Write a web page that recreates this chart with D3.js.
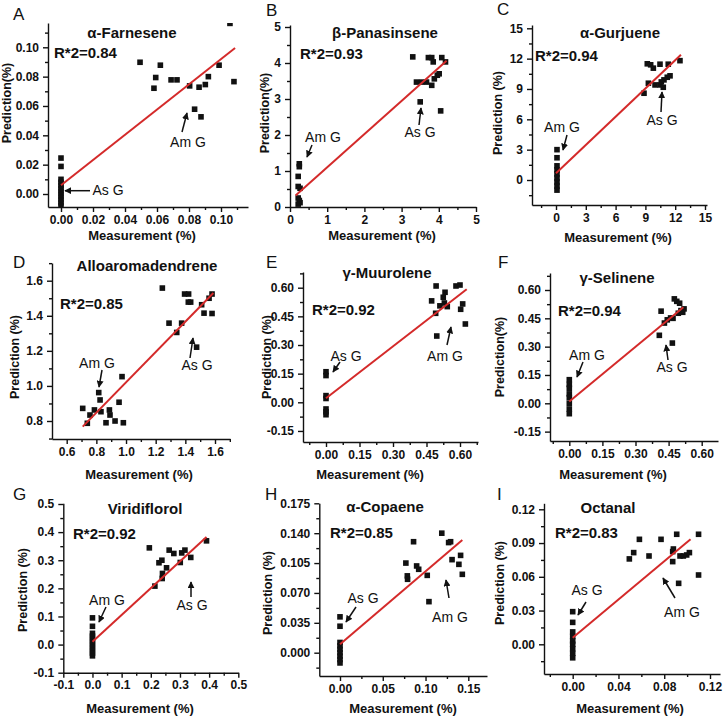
<!DOCTYPE html>
<html><head><meta charset="utf-8">
<script src="https://cdn.jsdelivr.net/npm/d3@7"></script>
<style>
body{margin:0;background:#fff}
svg{display:block}
text{font-family:"Liberation Sans",Arial,sans-serif;fill:#111}
</style>
</head><body>
<svg id="chart" width="723" height="718"></svg>
<script>
// ---------------- DATA ----------------
const panelIds = ["A","B","C","D","E","F","G","H","I"];
const titles = ["α-Farnesene","β-Panasinsene","α-Gurjuene","Alloaromadendrene","γ-Muurolene","γ-Selinene","Viridiflorol","α-Copaene","Octanal"];
const r2Labels = ["R*2=0.84","R*2=0.93","R*2=0.94","R*2=0.85","R*2=0.92","R*2=0.94","R*2=0.92","R*2=0.85","R*2=0.83"];
const yTitles = ["Prediction(%)","Prediction(%)","Prediction (%)","Prediction (%)","Prediction (%)","Prediction(%)","Prediction (%)","Prediction (%)","Prediction (%)"];
const xTitle = "Measurement (%)";

// measurement (x) and prediction (y) per panel
const A_x = [0,0,0,0,0,0,0,0,0,0,0,0, 0.0494,0.0581,0.0592,0.0621,0.0688,0.0725,0.0804,0.0835,0.0863,0.0875,0.0902,0.0921,0.0988,0.1081,0.1056];
const A_y = [0.0245,0.0188,0.010,0.008,0.006,0.004,0.002,0.000,-0.002,-0.004,-0.006,-0.008, 0.0898,0.0721,0.0794,0.0878,0.0778,0.0778,0.0737,0.0578,0.0728,0.0526,0.0746,0.0800,0.0878,0.0766,0.1163];
const A_fit = [[0,0.006],[0.1088,0.0995]];

const B_x = [0.25,0.25,0.22,0.22,0.27,0.22,0.25,0.27,0.22, 3.30,3.72,3.81,3.85,4.08,4.18,3.40,3.54,3.67,3.81,3.88,3.96,4.01,3.50,4.05];
const B_y = [1.20,1.12,0.85,0.57,0.52,0.25,0.18,0.12,0.08, 4.17,4.15,4.15,4.03,4.15,4.03,3.47,3.47,3.47,3.38,3.56,3.66,3.70,2.92,2.67];
const B_fit = [[0.15,0.32],[4.21,4.06]];

const C_x = [0.1,0.1,0.1,0.1,0.1,0.1,0.1,0.1,0.1, 8.86,9.30,9.19,9.53,9.80,10.47,11.30,12.48,9.97,10.47,10.87,10.80,11.20,11.48,10.60];
const C_y = [3.0,2.2,1.4,1.0,0.6,0.2,-0.2,-0.6,-1.0, 8.58,9.57,11.49,11.39,11.06,11.45,11.45,11.80,9.40,9.40,9.90,9.17,10.16,10.30,9.70];
const C_fit = [[0,0.66],[12.58,12.38]];

const D_x = [0.708,0.739,0.757,0.787,0.816,0.825,0.831,0.888,0.892,0.865,0.926,0.953,0.973,0.982, 1.245,1.290,1.342,1.375,1.395,1.422,1.420,1.436,1.510,1.526,1.580,1.580,1.560,1.476];
const D_y = [0.872,0.787,0.834,0.863,0.962,0.920,0.853,0.863,0.834,0.790,0.800,0.907,1.053,0.790, 1.558,1.358,1.305,1.358,1.524,1.524,1.478,1.478,1.463,1.415,1.524,1.413,1.500,1.221];
const D_fit = [[0.708,0.768],[1.589,1.530]];

const E_x = [0,0,0,0,0,0,0, 0.473,0.493,0.491,0.496,0.533,0.525,0.543,0.510,0.582,0.600,0.612,0.603,0.624,0.530];
const E_y = [0.16,0.14,0.035,0.02,-0.035,-0.05,-0.065, 0.531,0.609,0.466,0.347,0.576,0.550,0.501,0.505,0.609,0.614,0.515,0.487,0.410,0.520];
const E_fit = [[0,0.021],[0.63,0.592]];

const F_x = [0,0,0,0,0,0,0,0, 0.416,0.408,0.431,0.444,0.467,0.459,0.476,0.487,0.500,0.506,0.494,0.514,0.470,0.520];
const F_y = [0.125,0.10,0.08,0.05,0.03,0.0,-0.03,-0.055, 0.488,0.360,0.425,0.442,0.319,0.452,0.553,0.540,0.530,0.491,0.477,0.482,0.450,0.500];
const F_fit = [[0,0.01],[0.517,0.509]];

const G_x = [0,0,0,0,0,0,0,0,0,0,0, 0.195,0.214,0.228,0.238,0.240,0.239,0.254,0.263,0.279,0.306,0.301,0.317,0.337,0.391];
const G_y = [0.095,0.065,0.04,0.03,0.02,0.01,0.0,-0.01,-0.02,-0.03,-0.04, 0.344,0.208,0.291,0.300,0.253,0.235,0.273,0.336,0.324,0.326,0.292,0.336,0.310,0.369];
const G_fit = [[0,0.01],[0.391,0.383]];

const H_x = [0,0,0,0,0,0,0,0,0, 0.077,0.0787,0.079,0.086,0.0896,0.092,0.102,0.104,0.119,0.127,0.1293,0.131,0.139,0.141,0.143];
const H_y = [0.042,0.031,0.012,0.008,0.004,0.0,-0.004,-0.008,-0.012, 0.105,0.090,0.086,0.130,0.1016,0.0977,0.0906,0.0598,0.140,0.129,0.130,0.109,0.1035,0.114,0.0918];
const H_fit = [[0,0.0098],[0.143,0.132]];

const I_x = [0,0,0,0,0,0,0,0,0, 0.0495,0.0533,0.0583,0.0667,0.0772,0.0874,0.088,0.0874,0.0909,0.0926,0.0938,0.0967,0.0996,0.102,0.110,0.110];
const I_y = [0.029,0.0195,0.011,0.007,0.003,0.0,-0.004,-0.008,-0.012, 0.0759,0.0815,0.0933,0.0785,0.0933,0.0824,0.0847,0.0735,0.0978,0.0542,0.0785,0.0785,0.0794,0.0815,0.0978,0.0616];
const I_fit = [[0,0.0059],[0.103,0.0933]];

// tick values
const A_xticks = [0,0.02,0.04,0.06,0.08,0.10], A_yticks = [0,0.02,0.04,0.06,0.08,0.10];
const B_xticks = [0,1,2,3,4,5], B_yticks = [0,1,2,3,4,5];
const C_xticks = [0,3,6,9,12,15], C_yticks = [0,3,6,9,12,15];
const D_xticks = [0.6,0.8,1.0,1.2,1.4,1.6], D_yticks = [0.8,1.0,1.2,1.4,1.6];
const E_xticks = [0,0.15,0.30,0.45,0.60], E_yticks = [-0.15,0,0.15,0.30,0.45,0.60];
const F_xticks = [0,0.15,0.30,0.45,0.60], F_yticks = [-0.15,0,0.15,0.30,0.45,0.60];
const G_xticks = [-0.1,0,0.1,0.2,0.3,0.4,0.5], G_yticks = [-0.1,0,0.1,0.2,0.3,0.4,0.5];
const H_xticks = [0,0.05,0.10,0.15], H_yticks = [0,0.035,0.070,0.105,0.140,0.175];
const I_xticks = [0,0.04,0.08,0.12], I_yticks = [0,0.03,0.06,0.09,0.12];

// ---------------- LAYOUT ----------------
// ax: pixel extent of axes; xr/yr: two reference (value, pixel) pairs
const layout = {
 A:{letter:[13,20], ax:{l:48,r:248,b:207,t:23}, xr:[[0,61],[0.1,221]], yr:[[0,194],[0.1,47.3]], xf:".2f", yf:".2f",
    title:[132,32], r2:[54,52], yt:[7,103], xt:[142,235],
    ann:[{t:"As G",p:[108,190],a:[[90,190.7],[65,190.7]]},{t:"Am G",p:[188,142],a:[[182,132],[187,113]]}]},
 B:{letter:[266,16], ax:{l:290,r:476,b:207,t:25}, xr:[[0,290],[5,476]], yr:[[0,207],[5,27]], xf:"d", yf:"d",
    title:[385,32], r2:[300,53], yt:[265,113], xt:[382,235],
    ann:[{t:"Am G",p:[323,137],a:[[312,145],[307,157]]},{t:"As G",p:[420,132],a:[[419,125],[421,108]]}]},
 C:{letter:[497,15], ax:{l:532,r:707,b:205,t:25}, xr:[[0,556],[15,705]], yr:[[0,180],[15,28.3]], xf:"d", yf:"d",
    title:[620,32], r2:[535,55], yt:[498,113], xt:[618,237],
    ann:[{t:"Am G",p:[562,127],a:[[567,135],[563,150]]},{t:"As G",p:[662,120],a:[[661,112],[662,92]]}]},
 D:{letter:[13,268], ax:{l:52,r:230,b:439,t:263}, xr:[[0.6,66.7],[1.6,215]], yr:[[0.8,421],[1.6,280.7]], xf:".1f", yf:".1f",
    title:[147,265], r2:[60,303], yt:[15,357], xt:[139,474],
    ann:[{t:"Am G",p:[97,363],a:[[102,370],[99,387]]},{t:"As G",p:[197,365],a:[[190,358],[193,338]]}]},
 E:{letter:[266,268], ax:{l:303,r:478,b:442,t:272}, xr:[[0,326],[0.6,460]], yr:[[0,402.3],[0.6,287.7]], xf:".2f", yf:".2f",
    title:[387,272], r2:[312,309], yt:[267,357], xt:[370,474],
    ann:[{t:"As G",p:[346,356],a:[[340,362],[333,372]]},{t:"Am G",p:[445,356],a:[[447,345],[451,327]]}]},
 F:{letter:[498,268], ax:{l:550,r:718,b:441,t:273}, xr:[[0,569.3],[0.6,701.7]], yr:[[0,403.3],[0.6,290]], xf:".2f", yf:".2f",
    title:[617,277], r2:[558,310], yt:[500,357], xt:[613,474],
    ann:[{t:"Am G",p:[587,355],a:[[583,362],[577,377]]},{t:"As G",p:[672,367],a:[[668,360],[666,345]]}]},
 G:{letter:[13,500], ax:{l:63.3,r:238.3,b:672.7,t:503.3}, xr:[[-0.1,63.3],[0.5,238.3]], yr:[[-0.1,672.7],[0.5,504]], xf:".1f", yf:".1f",
    title:[145,508], r2:[73,533], yt:[23,590], xt:[140,708],
    ann:[{t:"Am G",p:[107,600],a:[[106,607],[99,622]]},{t:"As G",p:[192,605],a:[[191,597],[191,582]]}]},
 H:{letter:[265,500], ax:{l:319.3,r:487,b:676,t:503.3}, xr:[[0,340],[0.15,468.3]], yr:[[0,652.7],[0.175,503.3]], xf:".2f", yf:".3f",
    title:[385,506], r2:[330,532], yt:[268,593], xt:[403,708],
    ann:[{t:"As G",p:[363,598],a:[[356,607],[346,622]]},{t:"Am G",p:[450,617],a:[[449,598],[446,580]]}]},
 I:{letter:[497,500], ax:{l:544,r:720,b:674,t:503.3}, xr:[[0,572.7],[0.12,710]], yr:[[0,644.3],[0.12,509.3]], xf:".2f", yf:".2f",
    title:[608,507], r2:[555,532], yt:[500,583], xt:[630,708],
    ann:[{t:"As G",p:[587,590],a:[[586,602],[578,615]]},{t:"Am G",p:[682,612],a:[[675,598],[663,578]]}]}
};
const dataById = {
 A:[A_x,A_y,A_fit,A_xticks,A_yticks], B:[B_x,B_y,B_fit,B_xticks,B_yticks], C:[C_x,C_y,C_fit,C_xticks,C_yticks],
 D:[D_x,D_y,D_fit,D_xticks,D_yticks], E:[E_x,E_y,E_fit,E_xticks,E_yticks], F:[F_x,F_y,F_fit,F_xticks,F_yticks],
 G:[G_x,G_y,G_fit,G_xticks,G_yticks], H:[H_x,H_y,H_fit,H_xticks,H_yticks], I:[I_x,I_y,I_fit,I_xticks,I_yticks]
};

const locale = d3.formatLocale({decimal:".", thousands:",", grouping:[3], currency:["",""], minus:"-"});
const svg = d3.select("#chart");
const defs = svg.append("defs");
defs.append("marker").attr("id","arr").attr("viewBox","0 0 10 10").attr("refX",9).attr("refY",5)
  .attr("markerWidth",7).attr("markerHeight",7).attr("markerUnits","userSpaceOnUse").attr("orient","auto")
  .append("path").attr("d","M0,0 L10,5 L0,10 z").attr("fill","#111");

const SQ = 5.6;

panelIds.forEach((id, i) => {
  const L = layout[id];
  const [xs, ys, fit, xt, yt] = dataById[id];
  const lin = (r) => d3.scaleLinear().domain([r[0][0], r[1][0]]).range([r[0][1], r[1][1]]);
  const x0 = lin(L.xr), y0 = lin(L.yr);
  const x = d3.scaleLinear().domain([x0.invert(L.ax.l), x0.invert(L.ax.r)]).range([L.ax.l, L.ax.r]);
  const y = d3.scaleLinear().domain([y0.invert(L.ax.b), y0.invert(L.ax.t)]).range([L.ax.b, L.ax.t]);
  const g = svg.append("g");

  // minor ticks (halfway between majors)
  const halfX = (xt[1]-xt[0])/2, halfY = (yt[1]-yt[0])/2;
  const [xd0, xd1] = x.domain(), [yd0, yd1] = y.domain();
  const minorX = [xt[0]-halfX, ...xt.map(v => v+halfX)].filter(v => v > xd0+1e-9 && v < xd1-1e-9);
  const minorY = [yt[0]-halfY, ...yt.map(v => v+halfY)].filter(v => v > yd0+1e-9 && v < yd1-1e-9);

  g.append("g").attr("transform",`translate(0,${L.ax.b})`)
    .call(d3.axisBottom(x).tickValues(xt).tickSize(5).tickSizeOuter(0).tickPadding(3).tickFormat(locale.format(L.xf)));
  g.append("g").attr("transform",`translate(0,${L.ax.b})`)
    .call(d3.axisBottom(x).tickValues(minorX).tickSize(3).tickSizeOuter(0).tickFormat(""))
    .select(".domain").remove();
  g.append("g").attr("transform",`translate(${L.ax.l},0)`)
    .call(d3.axisLeft(y).tickValues(yt).tickSize(5).tickSizeOuter(0).tickPadding(4).tickFormat(locale.format(L.yf)));
  g.append("g").attr("transform",`translate(${L.ax.l},0)`)
    .call(d3.axisLeft(y).tickValues(minorY).tickSize(3).tickSizeOuter(0).tickFormat(""))
    .select(".domain").remove();
  g.selectAll(".domain, .tick line").attr("stroke","#111").attr("stroke-width",1.4);
  g.selectAll(".tick text").attr("font-family","Liberation Sans, Arial, sans-serif")
    .attr("font-size",12).attr("font-weight","bold").attr("fill","#111");

  // clip
  defs.append("clipPath").attr("id","clip"+id).append("rect")
    .attr("x",L.ax.l).attr("y",L.ax.t).attr("width",L.ax.r-L.ax.l).attr("height",L.ax.b-L.ax.t);
  const pg = g.append("g").attr("clip-path",`url(#clip${id})`);
  pg.selectAll("rect.pt").data(xs.map((v,k)=>[v, ys[k]])).join("rect").attr("class","pt")
    .attr("x",d => x(d[0])-SQ/2).attr("y",d => y(d[1])-SQ/2).attr("width",SQ).attr("height",SQ).attr("fill","#111");
  pg.append("path").datum(fit).attr("d", d3.line().x(d=>x(d[0])).y(d=>y(d[1])))
    .attr("stroke","#d42a2a").attr("stroke-width",2).attr("fill","none");

  // texts
  g.append("text").attr("x",L.letter[0]).attr("y",L.letter[1]).attr("font-size",17).text(id);
  g.append("text").attr("x",L.title[0]).attr("y",L.title[1]).attr("text-anchor","middle").attr("dominant-baseline","central")
    .attr("font-size",15).attr("font-weight","bold").text(titles[i]);
  g.append("text").attr("x",L.r2[0]).attr("y",L.r2[1]).attr("dominant-baseline","central")
    .attr("font-size",15).attr("font-weight","bold").text(r2Labels[i]);
  g.append("text").attr("transform",`translate(${L.yt[0]},${L.yt[1]}) rotate(-90)`).attr("text-anchor","middle")
    .attr("dominant-baseline","central").attr("font-size",12.5).attr("font-weight","bold").text(yTitles[i]);
  g.append("text").attr("x",L.xt[0]).attr("y",L.xt[1]).attr("text-anchor","middle").attr("dominant-baseline","central")
    .attr("font-size",13).attr("font-weight","bold").text(xTitle);

  L.ann.forEach(a => {
    g.append("text").attr("x",a.p[0]).attr("y",a.p[1]).attr("text-anchor","middle").attr("dominant-baseline","central")
      .attr("font-size",14).text(a.t);
    g.append("line").attr("x1",a.a[0][0]).attr("y1",a.a[0][1]).attr("x2",a.a[1][0]).attr("y2",a.a[1][1])
      .attr("stroke","#111").attr("stroke-width",1.5).attr("marker-end","url(#arr)");
  });
});
</script>
</body></html>
